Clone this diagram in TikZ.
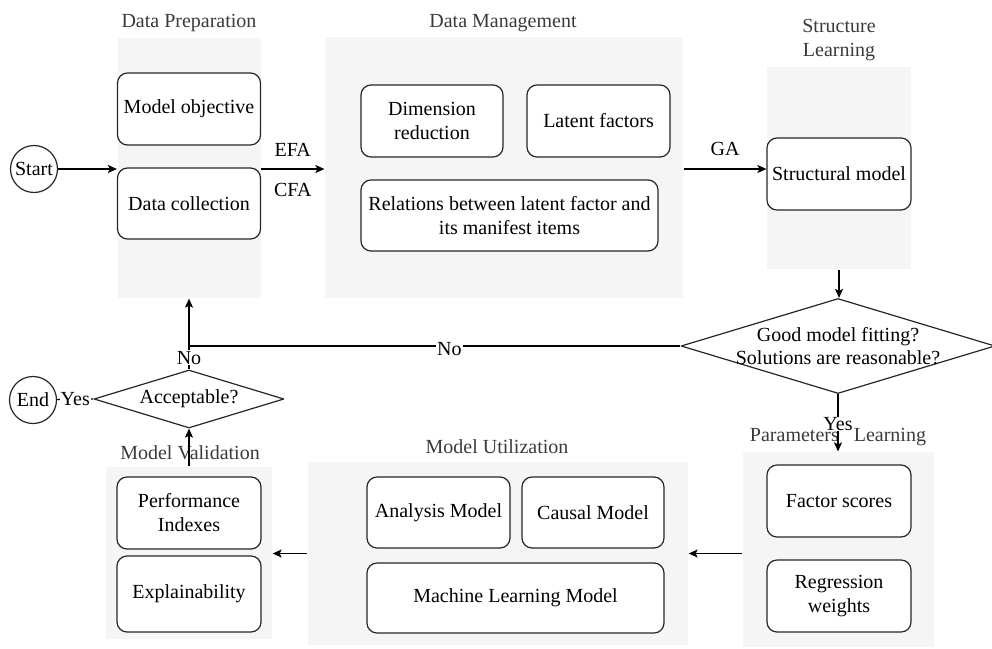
\documentclass[tikz,border=0pt]{standalone}
\usepackage{fontspec}
\setmainfont{LiberationSerif}[Extension=.ttf, UprightFont=*-Regular, BoldFont=*-Bold]
\usetikzlibrary{arrows.meta,shapes.geometric}
\definecolor{panelfill}{HTML}{F5F5F5}
\definecolor{titlegray}{HTML}{3A3A3A}
\definecolor{boxline}{HTML}{262626}
\begin{document}
\begin{tikzpicture}[x=1pt, y=-1pt, font=\fontsize{20}{24}\selectfont, line join=round, line width=1.2pt,
	>={Stealth[length=9pt,width=8pt,inset=2pt]},
	panel/.style args={#1/#2}{fill=panelfill, minimum width=#1, minimum height=#2, inner sep=0pt},
	box/.style args={#1/#2}{draw=boxline, fill=white, rounded corners=10pt, minimum width=#1, minimum height=#2, align=center, inner sep=2pt},
	title/.style={text=titlegray, align=center},
	term/.style={draw=boxline, circle, minimum size=47pt, inner sep=0pt},
	decision/.style args={#1/#2}{draw=boxline, diamond, aspect=3.3, minimum width=#1, minimum height=#2, inner sep=0pt},
	lab/.style={fill=white, inner sep=1pt}]
	\useasboundingbox (0,0) rectangle (992,648);
	% stages (grey panels)
	\node[panel=143/260] (prep) at (189,168) {};
	\node[panel=358/261] (mgmt) at (504,167.5) {};
	\node[panel=144/202] (struct) at (839,168) {};
	\node[panel=191/195] (param) at (838.5,549.5) {};
	\node[panel=380/183] (util) at (498,553.5) {};
	\node[panel=166/172] (valid) at (189,553) {};
	\node[title] (preptitle) at (189,23) {Data Preparation};
	\node[title] (mgmttitle) at (503,23) {Data Management};
	\node[title] (structtitle) at (839,40) {Structure\\Learning};
	\node[title] (paramtitle) at (838,437) {Parameters~~ Learning};
	\node[title] (utiltitle) at (497,447) {Model Utilization};
	\node[title] (validtitle) at (190,453) {Model Validation};
	% steps
	\node[box=143/72] (objective) at (189,109) {Model objective};
	\node[box=143/71] (collection) at (189,203.5) {Data collection};
	\node[box=142/72] (dimred) at (432,121) {Dimension\\reduction};
	\node[box=143/72] (latent) at (598.5,121) {Latent factors};
	\node[box=297/71] (relation) at (509.5,215.5) {Relations between latent factor and\\its manifest items};
	\node[box=144/72] (structural) at (839,174) {Structural model};
	\node[box=144/72] (scores) at (839,501) {Factor scores};
	\node[box=144/72] (weights) at (839,596) {Regression\\weights};
	\node[box=143/71] (analysis) at (438.5,512.5) {Analysis Model};
	\node[box=142/71] (causal) at (593,512.5) {Causal Model};
	\node[box=297/70] (mlmodel) at (515.5,598) {Machine Learning Model};
	\node[box=144/72] (perf) at (189,513) {Performance\\Indexes};
	\node[box=144/76] (explain) at (189,594) {Explainability};
	% start, end and decisions
	\node[term] (start) at (34,169) {Start};
	\node[term] (finish) at (33,400) {End};
	\node[decision=314/95] (fit) at (838,346) {};
	\node[align=center] (fittext) at (fit.center) {Good model fitting?\\[-1pt]Solutions are reasonable?};
	\node[decision=190/58] (accept) at (189,399) {Acceptable?};
	\coordinate (turn) at (accept.north |- fit.west);
	% connectors
	\draw[->] (start) -- (start -| prep.west);
	\draw[->] (prep.east |- start) -- node[above=9pt] (efa) {EFA} node[below=10pt] (cfa) {CFA} (mgmt.west |- start);
	\draw[->] (mgmt.east |- start) -- node[above=9pt] (ga) {GA} (struct.west |- start);
	\draw[->] (struct.south) -- (struct.south |- fit.north);
	\draw[->] (fit.south) -- node[lab, pos=0.52, inner sep=0.5pt] (yesfit) {Yes} (fit.south |- param.north);
	\draw[->] (param.west |- util) -- (util.east);
	\draw[->] (util.west) -- (valid.east |- util.west);
	\draw[->] (valid.north) -- (accept.south);
	\draw (accept.west) -- node[lab] (yesend) {Yes} (finish);
	\draw[->] (fit.west) -- node[lab, pos=0.47, yshift=-3pt] (nofit) {No} (turn) -- (prep.south);
	\draw (accept.north) -- node[lab] (noaccept) {No} (turn);
\end{tikzpicture}
\end{document}
